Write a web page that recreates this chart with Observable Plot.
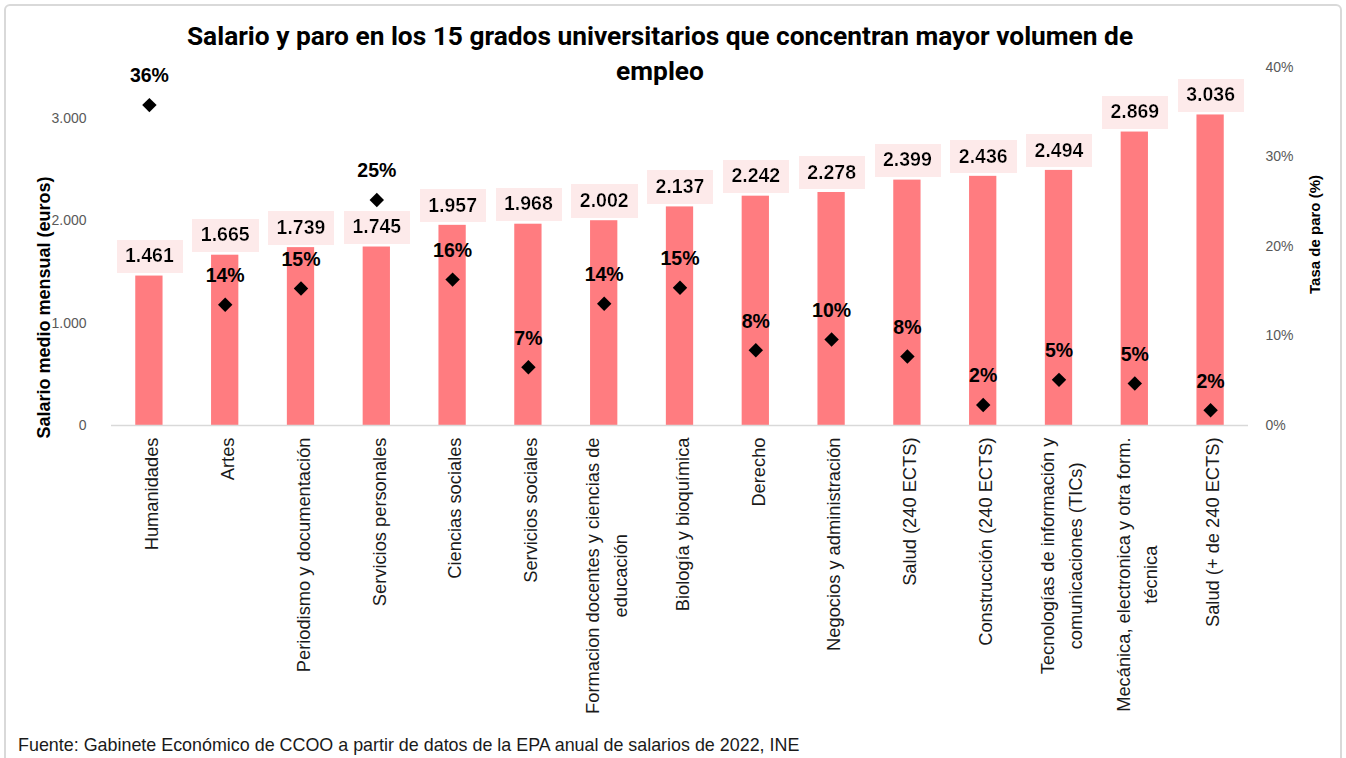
<!DOCTYPE html>
<html>
<head>
<meta charset="utf-8">
<script src="https://cdn.jsdelivr.net/npm/d3@7"></script>
<script src="https://cdn.jsdelivr.net/npm/@observablehq/plot@0.6"></script>
<style>
  body { margin: 0; background: #fff; }
  #wrap { position: relative; width: 1346px; height: 758px; overflow: hidden; background: #fff; }
  #frame { position: absolute; left: 4px; top: 4px; width: 1334px; height: 780px; border: 2px solid #d9d9d9; border-radius: 6px; }
  #chart { position: absolute; left: 0; top: 0; }
  #title { position: absolute; left: 0; width: 1320px; top: 19px; text-align: center; font-family: Roboto, "Liberation Sans", sans-serif; font-weight: 700; font-size: 26.3px; line-height: 35px; color: #000; }
  #caption { position: absolute; left: 18px; top: 735px; font-family: "Liberation Sans", sans-serif; font-size: 17.9px; line-height: 20px; color: #1a1a1a; white-space: nowrap; }
</style>
</head>
<body>
<svg width="0" height="0" style="position:absolute">
  <defs>
    <filter id="lblbg" x="-0.16" y="-0.19" width="1.33" height="1.47">
      <feFlood flood-color="#FDEAEA"/>
      <feMerge><feMergeNode/><feMergeNode in="SourceGraphic"/></feMerge>
    </filter>
  </defs>
</svg>
<div id="wrap">
  <div id="frame"></div>
  <div id="chart"></div>
  <div id="title">Salario y paro en los 15 grados universitarios que concentran mayor volumen de<br>empleo</div>
  <div id="caption">Fuente: Gabinete Económico de CCOO a partir de datos de la EPA anual de salarios de 2022, INE</div>
</div>
<script>
const categorias = [
  "Humanidades", "Artes", "Periodismo y documentación", "Servicios personales",
  "Ciencias sociales", "Servicios sociales", "Formacion docentes y ciencias de educación",
  "Biología y bioquímica", "Derecho", "Negocios y administración", "Salud (240 ECTS)",
  "Construcción (240 ECTS)", "Tecnologías de información y comunicaciones (TICs)",
  "Mecánica, electronica y otra form. técnica", "Salud (+ de 240 ECTS)"
];
const etiquetas = [
  "Humanidades", "Artes", "Periodismo y documentación", "Servicios personales",
  "Ciencias sociales", "Servicios sociales", "Formacion docentes y ciencias de\neducación",
  "Biología y bioquímica", "Derecho", "Negocios y administración", "Salud (240 ECTS)",
  "Construcción (240 ECTS)", "Tecnologías de información y\ncomunicaciones (TICs)",
  "Mecánica, electronica y otra form.\ntécnica", "Salud (+ de 240 ECTS)"
];
const salario = [1461, 1665, 1739, 1745, 1957, 1968, 2002, 2137, 2242, 2278, 2399, 2436, 2494, 2869, 3036];
const paro = [35.8, 13.5, 15.3, 25.2, 16.3, 6.5, 13.6, 15.4, 8.4, 9.6, 7.7, 2.3, 5.1, 4.7, 1.7];
const salarioTicks = [0, 1000, 2000, 3000];
const paroTicks = [0, 10, 20, 30, 40];

const salarioMax = 3500, paroMax = 40;
const k = salarioMax / paroMax; // maps % to the salary scale
const fmtES = v => d3.format(",")(v).replace(/,/g, ".");
const labelOf = new Map(categorias.map((c, i) => [c, etiquetas[i]]));

const data = categorias.map((c, i) => ({cat: c, salario: salario[i], paro: paro[i], paroY: paro[i] * k}));

const chart = Plot.plot({
  width: 1346,
  height: 758,
  marginTop: 67,
  marginBottom: 333,
  marginLeft: 111,
  marginRight: 98,
  style: {fontFamily: "Liberation Sans, Arial, sans-serif", fontSize: "14px", background: "transparent", overflow: "visible"},
  x: {type: "band", domain: categorias, paddingInner: 0.64, paddingOuter: 0.32, round: false},
  y: {domain: [0, salarioMax]},
  marks: [
    Plot.barY(data, {x: "cat", y: "salario", fill: "#FF7C80"}),
    Plot.ruleY([0], {stroke: "#D9D9D9", strokeWidth: 1.5}),
    Plot.axisY(salarioTicks, {anchor: "left", tickSize: 0, tickPadding: 25, tickFormat: fmtES, label: null, fontSize: 14, color: "#595959"}),
    Plot.axisY(paroTicks.map(p => p * k), {anchor: "right", tickSize: 0, tickPadding: 17, tickFormat: d => Math.round(d / k) + "%", label: null, fontSize: 14, color: "#595959"}),
    Plot.axisX({tickRotate: -90, tickSize: 0, tickPadding: 12, tickFormat: d => labelOf.get(d), label: null, fontSize: 18.3, lineHeight: 1.5, color: "#1a1a1a"}),
    Plot.text(data, {x: "cat", y: "salario", text: d => fmtES(d.salario), dy: -20, fontWeight: "bold", fontSize: 19.5, fill: "#000"}),
    Plot.dot(data, {x: "cat", y: "paroY", symbol: "diamond2", r: 6.5, fill: "#000", stroke: "none"}),
    Plot.text(data, {x: "cat", y: "paroY", text: d => Math.round(d.paro) + "%", dy: -29, fontWeight: "bold", fontSize: 19.5, fill: "#000"}),
    Plot.text(["Salario medio mensual (euros)"], {frameAnchor: "left", textAnchor: "middle", dx: -67, dy: 61, rotate: -90, fontWeight: "bold", fontSize: 18, fill: "#000"}),
    Plot.text(["Tasa de paro (%)"], {frameAnchor: "right", textAnchor: "middle", dx: 67, dy: -12, rotate: -90, fontWeight: "bold", fontSize: 15, fill: "#000"})
  ]
});
document.getElementById("chart").appendChild(chart);

// value-label background boxes (first text mark = salary labels)
const textGroups = chart.querySelectorAll('g[aria-label="text"]');
if (textGroups.length) {
  textGroups[0].querySelectorAll("text").forEach(t => t.setAttribute("filter", "url(#lblbg)"));
}
// center multi-line category labels relative to each other (Excel style)
chart.querySelectorAll('g[aria-label="x-axis tick label"] text').forEach(t => {
  const spans = t.querySelectorAll("tspan");
  if (spans.length > 1) {
    const maxLen = Math.max(...[...spans].map(s => s.getComputedTextLength()));
    t.setAttribute("text-anchor", "middle");
    spans.forEach(s => s.setAttribute("x", -maxLen / 2));
  }
});
</script>
</body>
</html>
